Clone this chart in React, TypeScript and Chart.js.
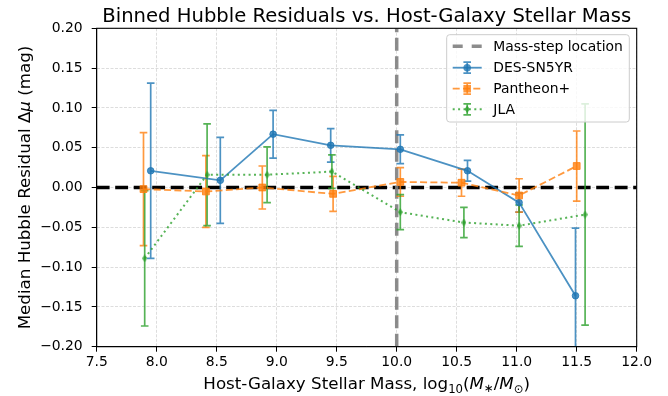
import { useEffect, useRef } from 'react';
import { Chart, registerables } from 'chart.js';

Chart.register(...registerables);

// ---------------- data ----------------
const titleText = 'Binned Hubble Residuals vs. Host-Galaxy Stellar Mass';
const seriesNames = ['DES-SN5YR', 'Pantheon+', 'JLA'];
const massStepLabel = 'Mass-step location';
const massStep = 10.0;
const zeroLevel = 0.0;

const desMass = [7.95, 8.53, 8.97, 9.45, 10.03, 10.59, 11.02, 11.49];
const desResid = [0.021, 0.009, 0.067, 0.053, 0.048, 0.021, -0.019, -0.136];
const desErr = [0.110, 0.054, 0.030, 0.021, 0.018, 0.013, 0.012, 0.085];

const panMass = [7.89, 8.41, 8.88, 9.47, 10.03, 10.54, 11.02, 11.50];
const panResid = [-0.002, -0.005, 0.000, -0.008, 0.007, 0.006, -0.010, 0.027];
const panErr = [0.071, 0.045, 0.027, 0.022, 0.018, 0.017, 0.021, 0.044];

const jlaMass = [7.90, 8.42, 8.92, 9.46, 10.03, 10.56, 11.02, 11.57];
const jlaResid = [-0.089, 0.016, 0.016, 0.020, -0.031, -0.044, -0.048, -0.034];
const jlaErr = [0.085, 0.064, 0.035, 0.021, 0.022, 0.019, 0.026, 0.139];

const xTickValues = [7.5, 8.0, 8.5, 9.0, 9.5, 10.0, 10.5, 11.0, 11.5, 12.0];
const xTickLabels = ['7.5', '8.0', '8.5', '9.0', '9.5', '10.0', '10.5', '11.0', '11.5', '12.0'];
const yTickValues = [-0.2, -0.15, -0.1, -0.05, 0, 0.05, 0.1, 0.15, 0.2];
const yTickLabels = ['\u22120.20', '\u22120.15', '\u22120.10', '\u22120.05', '0.00', '0.05', '0.10', '0.15', '0.20'];

// ---------------- styles ----------------
const FONT = '"DejaVu Sans", sans-serif';
const BLUE = 'rgba(31,119,180,0.8)';
const ORANGE = 'rgba(255,127,14,0.8)';
const GREEN = 'rgba(44,160,44,0.8)';
const GRAY = 'rgba(128,128,128,0.9)';

type Run = { t: string; size: number; italic?: boolean; dy?: number };

function setFont(ctx: CanvasRenderingContext2D, r: Run) {
  ctx.font = `${r.italic ? 'italic ' : ''}${r.size}px ${FONT}`;
}
function runsWidth(ctx: CanvasRenderingContext2D, runs: Run[]) {
  let w = 0;
  for (const r of runs) {
    setFont(ctx, r);
    w += ctx.measureText(r.t).width;
  }
  return w;
}
function drawRuns(ctx: CanvasRenderingContext2D, runs: Run[], x: number, y: number) {
  let cx = x;
  for (const r of runs) {
    setFont(ctx, r);
    ctx.fillText(r.t, cx, y + (r.dy || 0));
    cx += ctx.measureText(r.t).width;
  }
}

function thinDiamond(color: string, w: number, h: number) {
  const c = document.createElement('canvas');
  c.width = w;
  c.height = h;
  const g = c.getContext('2d')!;
  g.fillStyle = color;
  g.beginPath();
  g.moveTo(w / 2, 0);
  g.lineTo(w, h / 2);
  g.lineTo(w / 2, h);
  g.lineTo(0, h / 2);
  g.closePath();
  g.fill();
  return c;
}

type Series = { name: string; x: number[]; y: number[]; e: number[]; color: string; dash: number[]; width: number; marker: string };

const seriesList: Series[] = [
  { name: seriesNames[0], x: desMass, y: desResid, e: desErr, color: BLUE, dash: [], width: 1.8, marker: 'circle' },
  { name: seriesNames[1], x: panMass, y: panResid, e: panErr, color: ORANGE, dash: [7, 3.3], width: 1.8, marker: 'square' },
  { name: seriesNames[2], x: jlaMass, y: jlaResid, e: jlaErr, color: GREEN, dash: [2, 3.4], width: 2, marker: 'diamond' },
];

function drawMarker(ctx: CanvasRenderingContext2D, kind: string, color: string, x: number, y: number) {
  ctx.save();
  ctx.fillStyle = color;
  ctx.beginPath();
  if (kind === 'circle') {
    ctx.arc(x, y, 3.8, 0, Math.PI * 2);
  } else if (kind === 'square') {
    ctx.rect(x - 3.8, y - 3.8, 7.6, 7.6);
  } else {
    ctx.moveTo(x, y - 4);
    ctx.lineTo(x + 2.6, y);
    ctx.lineTo(x, y + 4);
    ctx.lineTo(x - 2.6, y);
    ctx.closePath();
  }
  ctx.fill();
  ctx.restore();
}

const customPlugin = {
  id: 'customDraw',
  beforeDatasetsDraw(chart: any) {
    const { ctx, chartArea: a, scales } = chart;
    const xs = scales.x;
    const ys = scales.y;
    ctx.save();
    ctx.beginPath();
    ctx.rect(a.left, a.top, a.right - a.left, a.bottom - a.top);
    ctx.clip();

    // zero reference line
    const y0 = ys.getPixelForValue(zeroLevel);
    ctx.strokeStyle = '#000';
    ctx.lineWidth = 3.5;
    ctx.setLineDash([12.9, 5.6]);
    ctx.beginPath();
    ctx.moveTo(a.left, y0);
    ctx.lineTo(a.right, y0);
    ctx.stroke();

    // mass step line
    const xm = xs.getPixelForValue(massStep);
    ctx.strokeStyle = GRAY;
    ctx.lineWidth = 3.5;
    ctx.beginPath();
    ctx.moveTo(xm, a.bottom);
    ctx.lineTo(xm, a.top);
    ctx.stroke();

    // error bars
    ctx.setLineDash([]);
    for (const s of seriesList) {
      ctx.strokeStyle = s.color;
      ctx.lineWidth = 1.7;
      for (let i = 0; i < s.x.length; i++) {
        const px = xs.getPixelForValue(s.x[i]);
        const top = ys.getPixelForValue(s.y[i] + s.e[i]);
        const bot = ys.getPixelForValue(s.y[i] - s.e[i]);
        ctx.beginPath();
        ctx.moveTo(px, top);
        ctx.lineTo(px, bot);
        ctx.moveTo(px - 3.8, top);
        ctx.lineTo(px + 3.8, top);
        ctx.moveTo(px - 3.8, bot);
        ctx.lineTo(px + 3.8, bot);
        ctx.stroke();
      }
    }
    ctx.restore();
  },
  afterDraw(chart: any) {
    const { ctx, chartArea: a } = chart;
    ctx.save();
    // axes box
    ctx.strokeStyle = '#000';
    ctx.lineWidth = 1.1;
    ctx.setLineDash([]);
    ctx.strokeRect(a.left, a.top, a.right - a.left, a.bottom - a.top);

    // title
    ctx.fillStyle = '#000';
    ctx.textBaseline = 'alphabetic';
    const tRuns: Run[] = [{ t: titleText, size: 19.6 }];
    const cx = (a.left + a.right) / 2;
    drawRuns(ctx, tRuns, cx - runsWidth(ctx, tRuns) / 2, 22);

    // x label
    const xRuns: Run[] = [
      { t: 'Host-Galaxy Stellar Mass, log', size: 16.7 },
      { t: '10', size: 11.7, dy: 3.6 },
      { t: '(', size: 16.7 },
      { t: 'M', size: 16.7, italic: true },
      { t: '\u2217', size: 11.7, dy: 3 },
      { t: '/', size: 16.7 },
      { t: 'M', size: 16.7, italic: true },
      { t: '\u2299', size: 11.7, dy: 3.6 },
      { t: ')', size: 16.7 },
    ];
    drawRuns(ctx, xRuns, cx - runsWidth(ctx, xRuns) / 2, 389);

    // y label
    const yRuns: Run[] = [
      { t: 'Median Hubble Residual \u0394', size: 16.7 },
      { t: '\u03bc', size: 16.7, italic: true },
      { t: ' (mag)', size: 16.7 },
    ];
    ctx.save();
    ctx.translate(30, (a.top + a.bottom) / 2);
    ctx.rotate(-Math.PI / 2);
    drawRuns(ctx, yRuns, -runsWidth(ctx, yRuns) / 2, 0);
    ctx.restore();

    // legend
    const lx = 446.7, ly = 34.7, lw = 182.6, lh = 87.3;
    ctx.beginPath();
    const r = 3;
    ctx.moveTo(lx + r, ly);
    ctx.arcTo(lx + lw, ly, lx + lw, ly + lh, r);
    ctx.arcTo(lx + lw, ly + lh, lx, ly + lh, r);
    ctx.arcTo(lx, ly + lh, lx, ly, r);
    ctx.arcTo(lx, ly, lx + lw, ly, r);
    ctx.closePath();
    ctx.fillStyle = 'rgba(255,255,255,0.8)';
    ctx.fill();
    ctx.strokeStyle = '#cccccc';
    ctx.lineWidth = 1;
    ctx.stroke();

    const hx0 = 452.7, hx1 = 481.7, hmid = (hx0 + hx1) / 2, tx = 493.3;
    const rows = [46.3, 67.7, 88.7, 109.3];
    ctx.font = `13.9px ${FONT}`;
    ctx.textBaseline = 'middle';
    ctx.fillStyle = '#000';
    // mass step entry
    ctx.strokeStyle = GRAY;
    ctx.lineWidth = 3.5;
    ctx.setLineDash([10, 9]);
    ctx.beginPath();
    ctx.moveTo(hx0, rows[0]);
    ctx.lineTo(hx1, rows[0]);
    ctx.stroke();
    ctx.setLineDash([]);
    ctx.fillText(massStepLabel, tx, rows[0] + 1);

    seriesList.forEach((s, i) => {
      const yy = rows[i + 1];
      ctx.strokeStyle = s.color;
      ctx.lineWidth = s.width;
      ctx.setLineDash(s.dash);
      ctx.beginPath();
      ctx.moveTo(hx0, yy);
      ctx.lineTo(hx1, yy);
      ctx.stroke();
      ctx.setLineDash([]);
      ctx.lineWidth = 1.7;
      ctx.beginPath();
      ctx.moveTo(hmid, yy - 5.5);
      ctx.lineTo(hmid, yy + 5.5);
      ctx.moveTo(hmid - 3.8, yy - 5.5);
      ctx.lineTo(hmid + 3.8, yy - 5.5);
      ctx.moveTo(hmid - 3.8, yy + 5.5);
      ctx.lineTo(hmid + 3.8, yy + 5.5);
      ctx.stroke();
      drawMarker(ctx, s.marker, s.color, hmid, yy);
      ctx.fillStyle = '#000';
      ctx.font = `13.9px ${FONT}`;
      ctx.fillText(s.name, tx, yy + 1);
    });
    ctx.restore();
  },
};

export default function App() {
  const ref = useRef<HTMLCanvasElement>(null);
  useEffect(() => {
    document.body.style.margin = '0';
    const diamond = thinDiamond(GREEN, 5, 8);
    const datasets = seriesList.map((s, idx) => ({
      label: s.name,
      data: s.x.map((m, i) => ({ x: m, y: s.y[i] })),
      borderColor: s.color,
      backgroundColor: s.color,
      borderWidth: s.width,
      borderDash: s.dash,
      borderCapStyle: 'butt',
      showLine: true,
      tension: 0,
      pointStyle: s.marker === 'circle' ? 'circle' : s.marker === 'square' ? 'rect' : diamond,
      pointRadius: s.marker === 'circle' ? 3.3 : s.marker === 'square' ? 4.8 : 4,
      pointBorderWidth: s.marker === 'diamond' ? 0 : 1,
      pointBackgroundColor: s.color,
      pointBorderColor: s.color,
      order: 2 - idx,
    }));

    const tickFont = { family: 'DejaVu Sans', size: 13.9 };
    const chart = new Chart(ref.current!, {
      type: 'scatter',
      data: { datasets } as any,
      options: {
        animation: false,
        responsive: false,
        devicePixelRatio: 1,
        layout: { padding: { left: 0, top: 28.3, right: 31.3, bottom: 0 } },
        plugins: { legend: { display: false }, title: { display: false }, tooltip: { enabled: false } },
        scales: {
          x: {
            type: 'linear',
            min: 7.5,
            max: 12.0,
            afterBuildTicks: (scale: any) => {
              scale.ticks = xTickValues.map((v) => ({ value: v }));
            },
            afterFit: (scale: any) => {
              scale.height = 49.3;
            },
            ticks: {
              callback: (_v: any, i: number) => xTickLabels[i],
              font: tickFont,
              color: '#000',
              padding: 2,
              maxRotation: 0,
              autoSkip: false,
            },
            grid: {
              color: 'rgba(176,176,176,0.55)',
              lineWidth: 0.8,
              tickColor: '#000',
              tickLength: 5,
              tickWidth: 1,
              tickBorderDash: [],
            },
            border: { display: true, color: '#000', width: 1, dash: [3, 1.5] },
          },
          y: {
            type: 'linear',
            min: -0.2,
            max: 0.2,
            afterBuildTicks: (scale: any) => {
              scale.ticks = yTickValues.map((v) => ({ value: v }));
            },
            afterFit: (scale: any) => {
              scale.width = 96.7;
            },
            ticks: {
              callback: (_v: any, i: number) => yTickLabels[i],
              font: tickFont,
              color: '#000',
              padding: 9,
              autoSkip: false,
            },
            grid: {
              color: 'rgba(176,176,176,0.55)',
              lineWidth: 0.8,
              tickColor: '#000',
              tickLength: 5,
              tickWidth: 1,
              tickBorderDash: [],
            },
            border: { display: true, color: '#000', width: 1, dash: [3, 1.5] },
          },
        },
      } as any,
      plugins: [customPlugin],
    });
    return () => chart.destroy();
  }, []);
  return (
    <div style={{ width: 668, height: 396 }}>
      <canvas ref={ref} width={668} height={396} style={{ display: 'block' }} />
    </div>
  );
}
